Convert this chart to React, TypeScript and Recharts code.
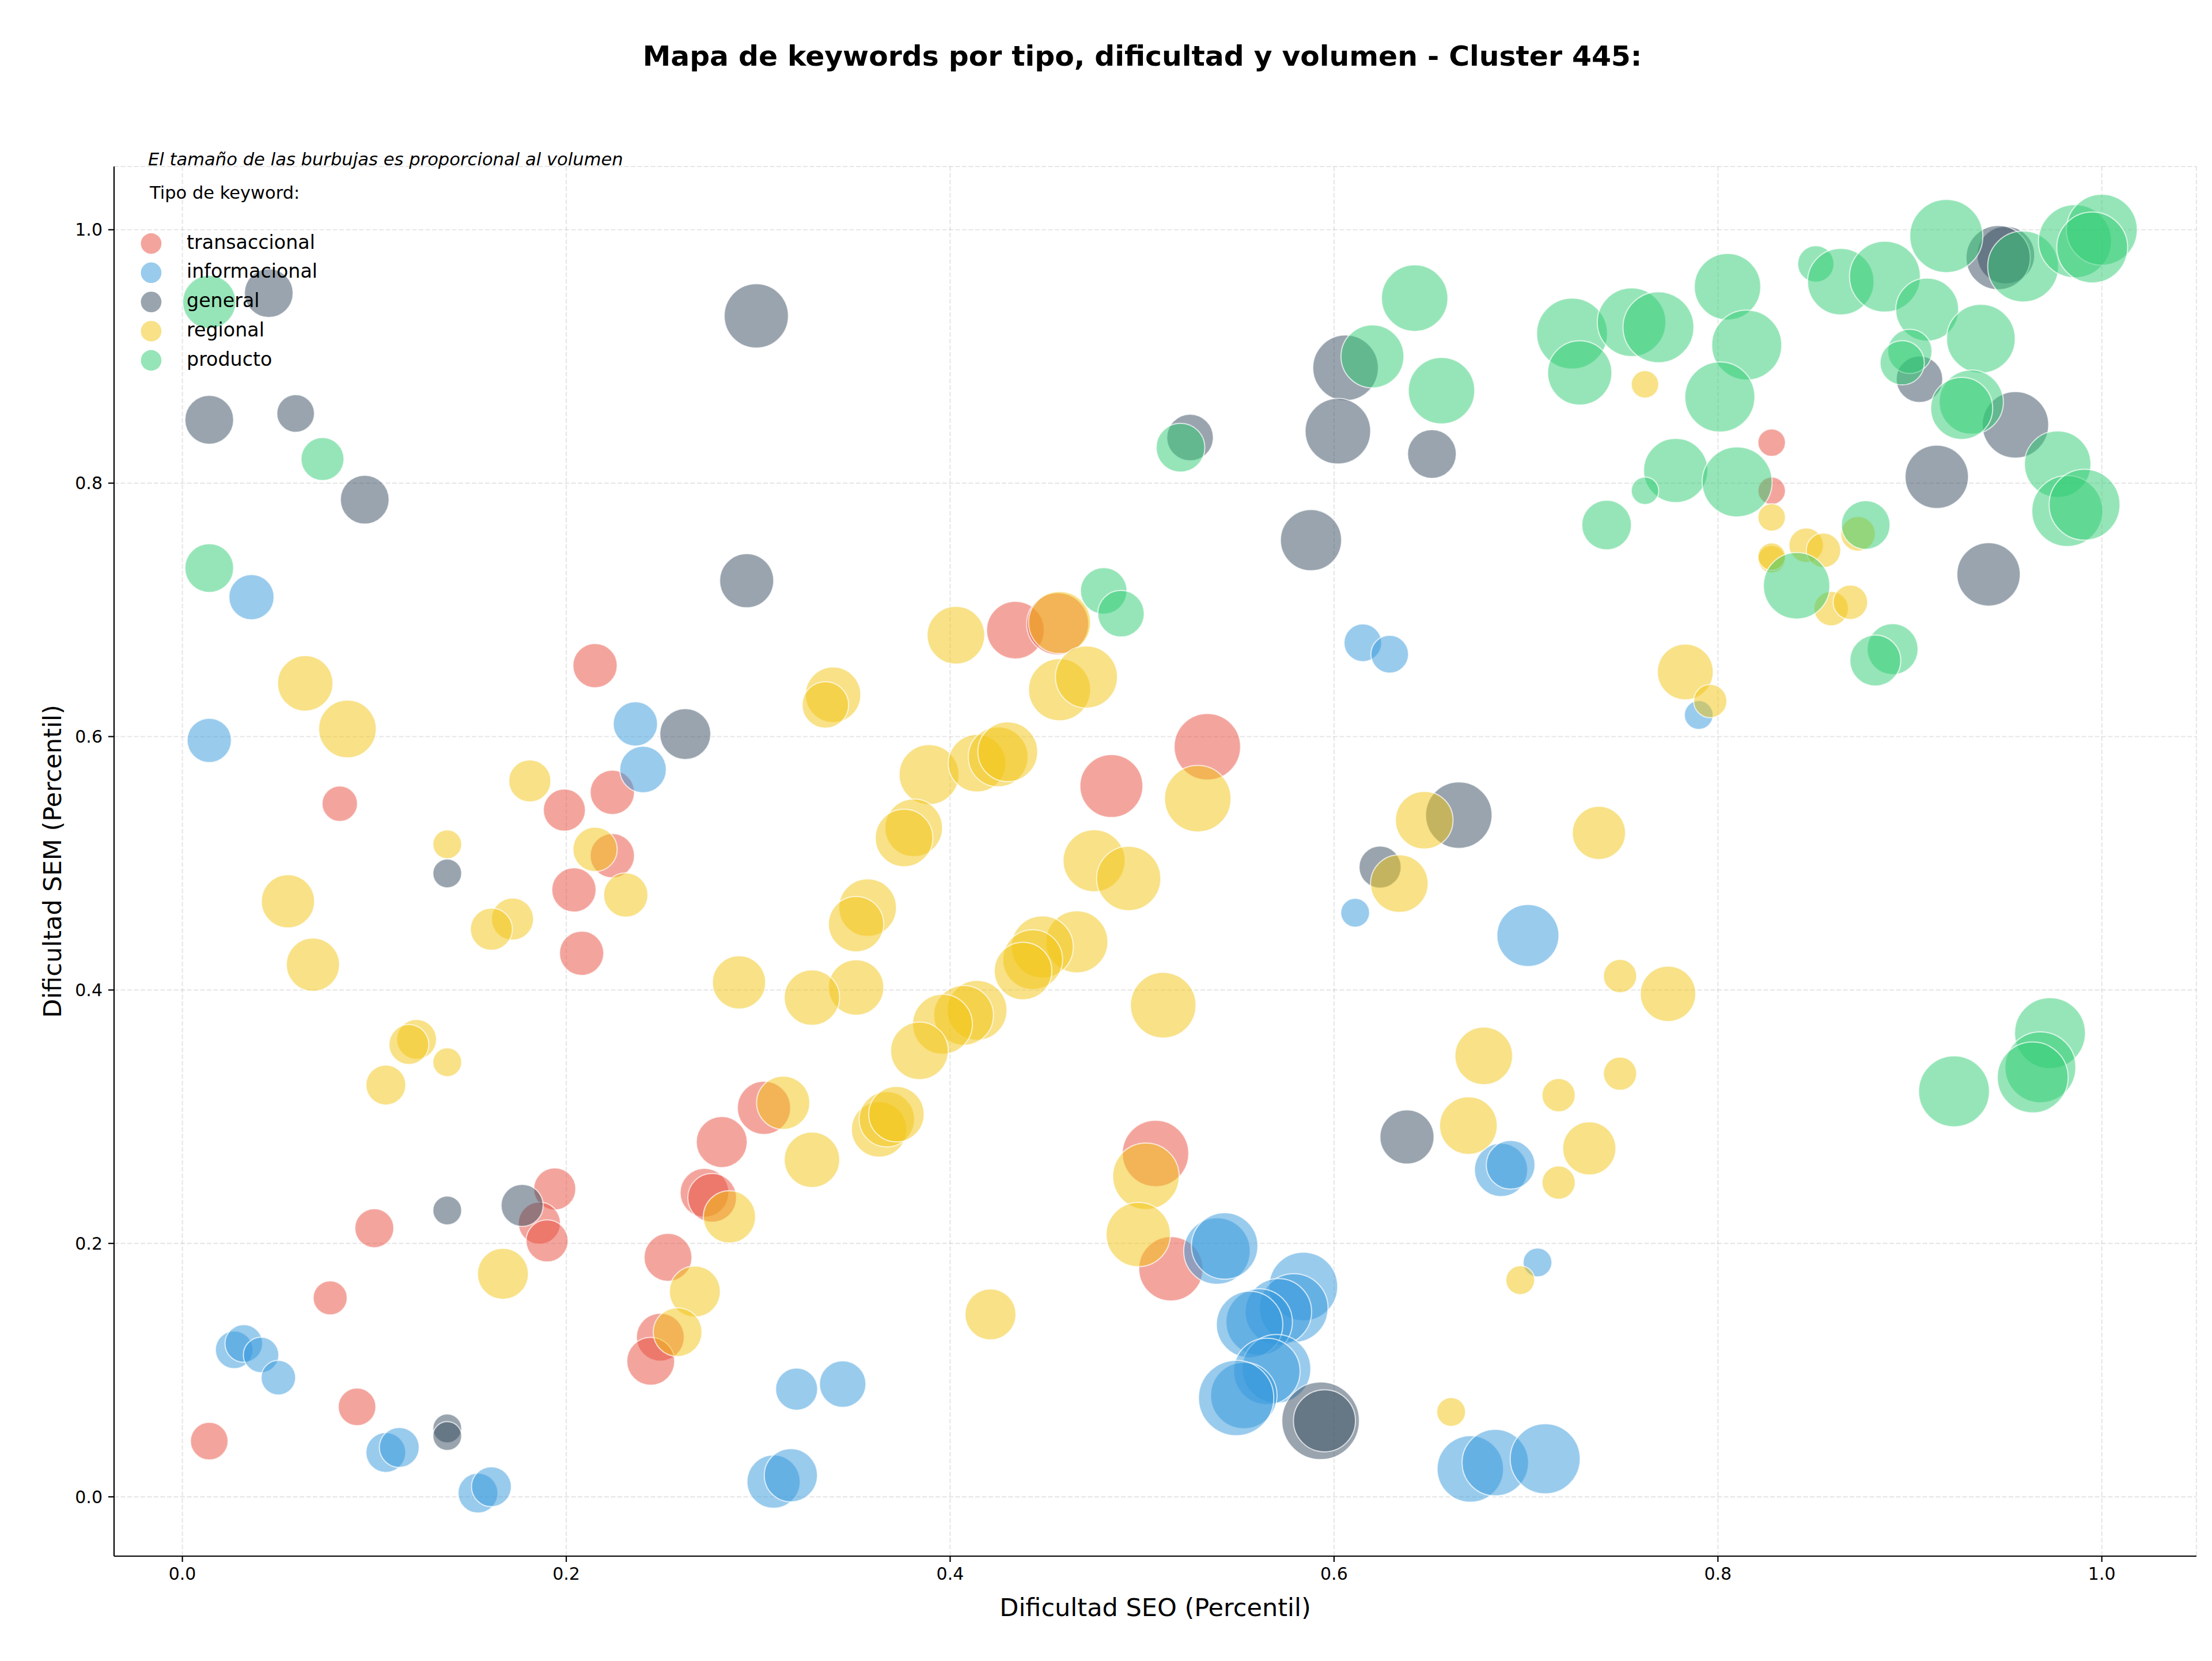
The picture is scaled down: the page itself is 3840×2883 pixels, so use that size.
import { ScatterChart, Scatter, XAxis, YAxis, ZAxis, CartesianGrid, Legend } from 'recharts';

// [dificultad SEO, dificultad SEM, volumen]
type Keyword = [number, number, number];

const transaccional: Keyword[] = [
  [0.215, 0.656, 400], [0.224, 0.556, 400], [0.199, 0.542, 361], [0.082, 0.547, 256],
  [0.224, 0.506, 400], [0.204, 0.479, 400], [0.208, 0.429, 400], [0.303, 0.307, 576],
  [0.281, 0.28, 529], [0.272, 0.24, 484], [0.276, 0.236, 484], [0.194, 0.243, 361],
  [0.186, 0.216, 361], [0.19, 0.202, 361], [0.1, 0.212, 310], [0.077, 0.157, 237],
  [0.253, 0.189, 467], [0.249, 0.126, 467], [0.244, 0.107, 467], [0.091, 0.071, 289],
  [0.014, 0.044, 289], [0.434, 0.684, 676], [0.456, 0.689, 784], [0.534, 0.592, 900],
  [0.484, 0.561, 807], [0.507, 0.271, 900], [0.515, 0.18, 841], [0.828, 0.832, 154],
  [0.828, 0.794, 154],
];

const informacional: Keyword[] = [
  [0.036, 0.71, 416], [0.014, 0.597, 400], [0.236, 0.61, 400], [0.24, 0.574, 441],
  [0.615, 0.674, 289], [0.629, 0.665, 289], [0.611, 0.461, 169], [0.79, 0.617, 169],
  [0.701, 0.443, 784], [0.687, 0.258, 576], [0.692, 0.262, 484], [0.706, 0.185, 169],
  [0.671, 0.022, 900], [0.684, 0.027, 900], [0.71, 0.03, 999], [0.027, 0.116, 289],
  [0.032, 0.121, 289], [0.041, 0.112, 256], [0.05, 0.094, 243], [0.106, 0.035, 324],
  [0.113, 0.039, 324], [0.154, 0.003, 324], [0.161, 0.008, 324], [0.308, 0.012, 576],
  [0.317, 0.017, 576], [0.32, 0.085, 361], [0.344, 0.089, 441], [0.539, 0.194, 900],
  [0.543, 0.198, 900], [0.584, 0.166, 961], [0.579, 0.149, 961], [0.571, 0.146, 900],
  [0.561, 0.138, 900], [0.556, 0.136, 900], [0.57, 0.101, 961], [0.565, 0.099, 900],
  [0.553, 0.08, 900], [0.549, 0.078, 1156],
];

const general: Keyword[] = [
  [0.045, 0.95, 484], [0.299, 0.932, 841], [0.014, 0.85, 484], [0.059, 0.855, 289],
  [0.095, 0.787, 484], [0.294, 0.723, 595], [0.262, 0.602, 529], [0.138, 0.492, 169],
  [0.138, 0.226, 169], [0.177, 0.23, 361], [0.138, 0.054, 169], [0.138, 0.048, 169],
  [0.525, 0.836, 441], [0.606, 0.891, 876], [0.602, 0.841, 876], [0.588, 0.755, 762],
  [0.651, 0.823, 484], [0.624, 0.497, 361], [0.665, 0.538, 900], [0.638, 0.284, 595],
  [0.593, 0.06, 1225], [0.595, 0.06, 784], [0.95, 0.98, 676], [0.946, 0.978, 841],
  [0.905, 0.882, 441], [0.955, 0.846, 900], [0.914, 0.805, 818], [0.941, 0.728, 818],
];

const regional: Keyword[] = [
  [0.064, 0.642, 625], [0.086, 0.606, 676], [0.181, 0.565, 361], [0.138, 0.515, 169],
  [0.215, 0.511, 400], [0.231, 0.475, 400], [0.055, 0.47, 576], [0.172, 0.456, 361],
  [0.161, 0.448, 361], [0.068, 0.42, 576], [0.29, 0.406, 576], [0.122, 0.361, 324],
  [0.118, 0.357, 324], [0.138, 0.343, 169], [0.106, 0.325, 324], [0.313, 0.311, 576],
  [0.285, 0.221, 557], [0.167, 0.176, 529], [0.267, 0.162, 529], [0.258, 0.13, 484],
  [0.403, 0.68, 676], [0.457, 0.69, 784], [0.457, 0.637, 784], [0.471, 0.647, 784],
  [0.339, 0.633, 625], [0.335, 0.625, 441], [0.529, 0.551, 900], [0.389, 0.57, 729],
  [0.414, 0.579, 676], [0.425, 0.584, 729], [0.43, 0.588, 729], [0.381, 0.528, 676],
  [0.376, 0.52, 676], [0.475, 0.502, 784], [0.493, 0.488, 841], [0.647, 0.534, 676],
  [0.634, 0.484, 676], [0.357, 0.465, 676], [0.351, 0.452, 625], [0.466, 0.438, 784],
  [0.448, 0.434, 784], [0.443, 0.424, 729], [0.438, 0.415, 676], [0.511, 0.388, 876],
  [0.351, 0.402, 625], [0.328, 0.394, 625], [0.414, 0.384, 729], [0.407, 0.38, 729],
  [0.396, 0.373, 729], [0.384, 0.352, 676], [0.678, 0.348, 676], [0.328, 0.266, 625],
  [0.363, 0.29, 625], [0.367, 0.298, 625], [0.372, 0.302, 625], [0.502, 0.253, 900],
  [0.498, 0.207, 841], [0.421, 0.144, 529], [0.661, 0.067, 169], [0.67, 0.293, 676],
  [0.783, 0.651, 635], [0.796, 0.628, 225], [0.738, 0.524, 576], [0.749, 0.411, 225],
  [0.774, 0.397, 625], [0.749, 0.334, 225], [0.717, 0.317, 225], [0.733, 0.275, 576],
  [0.717, 0.248, 225], [0.697, 0.171, 169], [0.762, 0.878, 154], [0.828, 0.773, 154],
  [0.873, 0.76, 243], [0.846, 0.751, 243], [0.855, 0.747, 243], [0.828, 0.74, 154],
  [0.828, 0.742, 154], [0.859, 0.701, 243], [0.869, 0.706, 243],
];

const producto: Keyword[] = [
  [0.014, 0.943, 576], [0.073, 0.819, 376], [0.014, 0.733, 484], [0.48, 0.715, 441],
  [0.489, 0.697, 441], [0.52, 0.828, 484], [0.642, 0.946, 900], [0.62, 0.9, 807],
  [0.656, 0.873, 900], [0.919, 0.995, 1089], [0.959, 0.971, 1024], [0.986, 0.991, 1089],
  [1.0, 1.0, 1024], [0.995, 0.986, 1024], [0.851, 0.973, 269], [0.864, 0.959, 900],
  [0.887, 0.963, 1024], [0.909, 0.937, 807], [0.937, 0.914, 961], [0.9, 0.904, 400],
  [0.896, 0.895, 400], [0.932, 0.864, 841], [0.927, 0.859, 784], [0.977, 0.815, 900],
  [0.982, 0.778, 1024], [0.991, 0.783, 1024], [0.724, 0.918, 1024], [0.755, 0.927, 961],
  [0.769, 0.923, 1024], [0.728, 0.887, 841], [0.805, 0.955, 900], [0.815, 0.909, 999],
  [0.801, 0.868, 999], [0.778, 0.81, 841], [0.81, 0.801, 999], [0.762, 0.794, 154],
  [0.742, 0.767, 502], [0.877, 0.767, 484], [0.841, 0.719, 900], [0.891, 0.669, 529],
  [0.882, 0.66, 529], [0.973, 0.366, 1024], [0.968, 0.339, 1024], [0.964, 0.331, 1024],
  [0.923, 0.32, 1024],
];

const tipos = ['transaccional', 'informacional', 'general', 'regional', 'producto'];
const colores = ['#e74c3c', '#3498db', '#34495e', '#f1c40f', '#2ecc71'];
const series = [transaccional, informacional, general, regional, producto];
const ticks = [0, 0.2, 0.4, 0.6, 0.8, 1.0];

const FONT = '"DejaVu Sans", sans-serif';
const W = 3840;
const H = 2883;
const PLOT = { left: 198, right: 3813, top: 289, bottom: 2701 };
const Y_AXIS_W = 150;
const X_AXIS_H = 100;

const toRows = (pts: Keyword[]) => pts.map(([seo, sem, vol]) => ({ seo, sem, vol }));

function LegendBox() {
  return (
    <svg width={700} height={700} style={{ overflow: 'visible' }}>
      <text x={260} y={345} fontSize={30.5} fontFamily={FONT} fill="#000">
        Tipo de keyword:
      </text>
      {tipos.map((t, i) => {
        const cy = 422.7 + i * 50.7;
        return (
          <g key={t}>
            <circle cx={262.4} cy={cy} r={17.9} fill={colores[i]} fillOpacity={0.5} />
            <text x={324} y={cy + 9} fontSize={33.3} fontFamily={FONT} fill="#000">
              {t}
            </text>
          </g>
        );
      })}
    </svg>
  );
}

export default function App() {
  const axisStyle = { stroke: '#000', strokeWidth: 2.2 };
  const tickStyle = { fontSize: 30, fill: '#000', fontFamily: FONT };
  const cx = (PLOT.left + PLOT.right) / 2;
  const cy = (PLOT.top + PLOT.bottom) / 2;

  return (
    <div style={{ position: 'relative', width: W, height: H, background: '#fff' }}>
      <style>{'body{margin:0}'}</style>
      <ScatterChart
        width={W}
        height={H}
        margin={{
          top: PLOT.top,
          right: W - PLOT.right,
          bottom: H - PLOT.bottom - X_AXIS_H,
          left: PLOT.left - Y_AXIS_W,
        }}
      >
        <CartesianGrid
          stroke="#b0b0b0"
          strokeOpacity={0.3}
          strokeWidth={2.2}
          strokeDasharray="8 3.5"
        />
        <XAxis
          type="number"
          dataKey="seo"
          domain={[-0.0356, 1.0493]}
          allowDataOverflow
          ticks={ticks}
          tickFormatter={(v: number) => v.toFixed(1)}
          height={X_AXIS_H}
          tick={tickStyle}
          tickSize={10}
          tickMargin={10}
          axisLine={axisStyle}
          tickLine={axisStyle}
        />
        <YAxis
          type="number"
          dataKey="sem"
          domain={[-0.0468, 1.0499]}
          allowDataOverflow
          ticks={ticks}
          tickFormatter={(v: number) => v.toFixed(1)}
          width={Y_AXIS_W}
          tick={tickStyle}
          tickSize={10}
          tickMargin={10}
          axisLine={axisStyle}
          tickLine={axisStyle}
        />
        {/* bubble area grows linearly with search volume */}
        <ZAxis type="number" dataKey="vol" domain={[0, 1250]} range={[0, 14500]} />
        {series.map((pts, i) => (
          <Scatter
            key={tipos[i]}
            name={tipos[i]}
            data={toRows(pts)}
            fill={colores[i]}
            fillOpacity={0.5}
            stroke="#ffffff"
            strokeWidth={2}
            strokeOpacity={0.7}
            isAnimationActive={false}
          />
        ))}
        <Legend
          layout="horizontal"
          align="center"
          verticalAlign="middle"
          wrapperStyle={{ left: 0, top: 0, width: 700, height: 700 }}
          content={() => <LegendBox />}
        />
      </ScatterChart>
      <svg
        width={W}
        height={H}
        style={{ position: 'absolute', left: 0, top: 0, pointerEvents: 'none' }}
      >
        <text x={1983} y={114} textAnchor="middle" fontSize={48.8} fontWeight="bold" fontFamily={FONT} fill="#000">
          Mapa de keywords por tipo, dificultad y volumen - Cluster 445:
        </text>
        <text x={257} y={287} fontSize={30.6} fontStyle="italic" fontFamily={FONT} fill="#000">
          El tamaño de las burbujas es proporcional al volumen
        </text>
        <text x={cx} y={2805} textAnchor="middle" fontSize={43} fontFamily={FONT} fill="#000">
          Dificultad SEO (Percentil)
        </text>
        <text
          transform={`translate(106, ${cy}) rotate(-90)`}
          textAnchor="middle"
          fontSize={43}
          fontFamily={FONT}
          fill="#000"
        >
          Dificultad SEM (Percentil)
        </text>
      </svg>
    </div>
  );
}
